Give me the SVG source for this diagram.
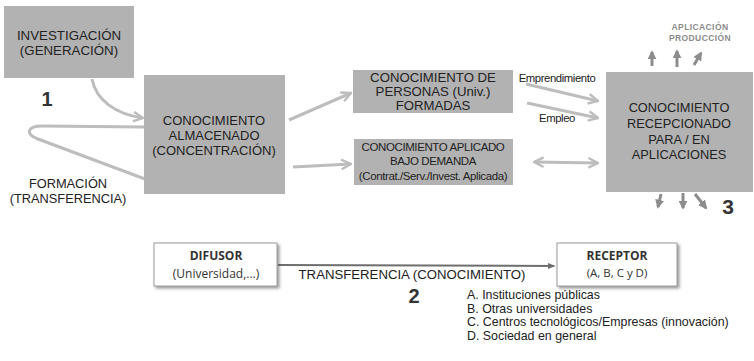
<svg xmlns="http://www.w3.org/2000/svg" width="754" height="361" viewBox="0 0 754 361">
<defs>
<style>
.box{fill:#b2b2b2;}
.t{font-family:"Liberation Sans",Arial,sans-serif;fill:#222;text-anchor:middle;}
.wb{fill:#fff;stroke:#9a9a9a;stroke-width:1;}
.cal{font-family:"Open Sans",Lato,sans-serif;fill:#333;text-anchor:middle;}
.ln{fill:none;stroke:#bdbdbd;stroke-width:3;}
.ga{fill:none;stroke:#8c8c8c;stroke-width:3;}
</style>
<marker id="ah" viewBox="0 0 10 10" refX="9" refY="5" markerWidth="4" markerHeight="4" orient="auto" markerUnits="strokeWidth">
<path d="M1,1 L9,5 L1,9" fill="none" stroke="#bdbdbd" stroke-width="2"/>
</marker>
<marker id="ahs" viewBox="0 0 10 10" refX="1" refY="5" markerWidth="4" markerHeight="4" orient="auto" markerUnits="strokeWidth">
<path d="M9,1 L1,5 L9,9" fill="none" stroke="#bdbdbd" stroke-width="2"/>
</marker>
<marker id="gh" viewBox="0 0 10 10" refX="8" refY="5" markerWidth="3" markerHeight="3" orient="auto" markerUnits="strokeWidth">
<path d="M0,0 L10,5 L0,10 Z" fill="#8c8c8c"/>
</marker>
<marker id="dh" viewBox="0 0 10 10" refX="8" refY="5" markerWidth="4" markerHeight="4" orient="auto" markerUnits="strokeWidth">
<path d="M0,1 L10,5 L0,9 Z" fill="#6e6e6e"/>
</marker>
<filter id="sh" x="-10%" y="-10%" width="125%" height="135%">
<feDropShadow dx="2" dy="2" stdDeviation="1.5" flood-color="#555" flood-opacity="0.6"/>
</filter>
</defs>

<g id="connectors">
<path class="ln" d="M92,79 C96,100 115,114 143,118" marker-end="url(#ah)"/>
<path class="ln" d="M143,127 L42,126 C27,126 25,134 38,139 L153,182" marker-start="url(#ah)"/>
<path class="ln" d="M289,120 L351,93" marker-end="url(#ah)"/>
<path class="ln" d="M293,167 L351,164" marker-end="url(#ah)"/>
<path class="ln" d="M526,84 L598,101" marker-end="url(#ah)"/>
<path class="ln" d="M527,103 L598,118" marker-end="url(#ah)"/>
<path class="ln" d="M534,162 L598,163" marker-start="url(#ahs)" marker-end="url(#ah)"/>
<path class="ga" d="M652,66 L652,52" marker-end="url(#gh)"/>
<path class="ga" d="M677,67 L677,51" marker-end="url(#gh)"/>
<path class="ga" d="M694,65 L701,53" marker-end="url(#gh)"/>
<path class="ga" d="M661,194 L658,207" marker-end="url(#gh)"/>
<path class="ga" d="M683,193 L683,208" marker-end="url(#gh)"/>
<path class="ga" d="M695,194 L706,208" marker-end="url(#gh)"/>
<path d="M278,265 L554,266" fill="none" stroke="#6e6e6e" stroke-width="2" marker-end="url(#dh)"/>
</g>

<g id="investigacion">
<rect class="box" x="4" y="6" width="130" height="72"/>
<text class="t" x="69" y="40" font-size="13.3">INVESTIGACIÓN</text>
<text class="t" x="69" y="55" font-size="13.3">(GENERACIÓN)</text>
</g>
<text class="t" x="47" y="106" font-size="20" font-weight="bold" style="fill:#333">1</text>

<g id="almacenado">
<rect class="box" x="144" y="75" width="141" height="119"/>
<text class="t" x="214" y="125" font-size="13">CONOCIMIENTO</text>
<text class="t" x="214" y="140" font-size="13">ALMACENADO</text>
<text class="t" x="214" y="155" font-size="13">(CONCENTRACIÓN)</text>
</g>

<g id="formacion">
<text class="t" x="68" y="188" font-size="12.8">FORMACIÓN</text>
<text class="t" x="68" y="203" font-size="12.8">(TRANSFERENCIA)</text>
</g>

<g id="personas">
<rect class="box" x="353" y="70" width="160" height="43"/>
<text class="t" x="433" y="82" font-size="13.2">CONOCIMIENTO DE</text>
<text class="t" x="433" y="96" font-size="13.2">PERSONAS (Univ.)</text>
<text class="t" x="433" y="110" font-size="13.2">FORMADAS</text>
</g>

<g id="aplicado">
<rect class="box" x="354" y="139" width="159" height="46"/>
<text class="t" x="433" y="151" font-size="11.5" letter-spacing="-0.4">CONOCIMIENTO APLICADO</text>
<text class="t" x="433" y="165" font-size="11.5" letter-spacing="-0.4">BAJO DEMANDA</text>
<text class="t" x="433" y="180" font-size="11.5" letter-spacing="-0.4">(Contrat./Serv./Invest. Aplicada)</text>
</g>

<text class="t" x="557" y="82" font-size="11.3" letter-spacing="-0.4">Emprendimiento</text>
<text class="t" x="557" y="122" font-size="11.3" letter-spacing="-0.4">Empleo</text>

<g id="recepcionado">
<rect class="box" x="606" y="72" width="147" height="120"/>
<text class="t" x="679" y="112" font-size="12.8">CONOCIMIENTO</text>
<text class="t" x="679" y="128" font-size="12.8">RECEPCIONADO</text>
<text class="t" x="679" y="144" font-size="12.8">PARA / EN</text>
<text class="t" x="679" y="159" font-size="12.8">APLICACIONES</text>
</g>

<g id="aplicacion">
<text class="t" x="700" y="30" font-size="8.5" font-weight="bold" style="fill:#8c8c8c" letter-spacing="0.4">APLICACIÓN</text>
<text class="t" x="700" y="41" font-size="8.5" font-weight="bold" style="fill:#8c8c8c" letter-spacing="0.4">PRODUCCIÓN</text>
</g>
<text class="t" x="728" y="214" font-size="21" font-weight="bold" style="fill:#333">3</text>

<g id="difusor">
<rect class="wb" x="154" y="243" width="123" height="43" filter="url(#sh)"/>
<text class="cal" x="216" y="260" font-size="12" font-weight="bold">DIFUSOR</text>
<text class="cal" x="216" y="278" font-size="12">(Universidad,...)</text>
</g>

<text class="t" x="412" y="279" font-size="13.2">TRANSFERENCIA (CONOCIMIENTO)</text>
<text class="t" x="414" y="303" font-size="20" font-weight="bold" style="fill:#333">2</text>

<g id="receptor">
<rect class="wb" x="557" y="243" width="120" height="43" filter="url(#sh)"/>
<text class="cal" x="617" y="260" font-size="12" font-weight="bold">RECEPTOR</text>
<text class="cal" x="617" y="277" font-size="11.5">(A, B, C y D)</text>
</g>

<g id="lista" font-family="'Liberation Sans',Arial,sans-serif" font-size="12.4" fill="#222">
<text x="467" y="299">A. Instituciones públicas</text>
<text x="467" y="312.5">B. Otras universidades</text>
<text x="467" y="326">C. Centros tecnológicos/Empresas (innovación)</text>
<text x="467" y="339.5">D. Sociedad en general</text>
</g>
</svg>
